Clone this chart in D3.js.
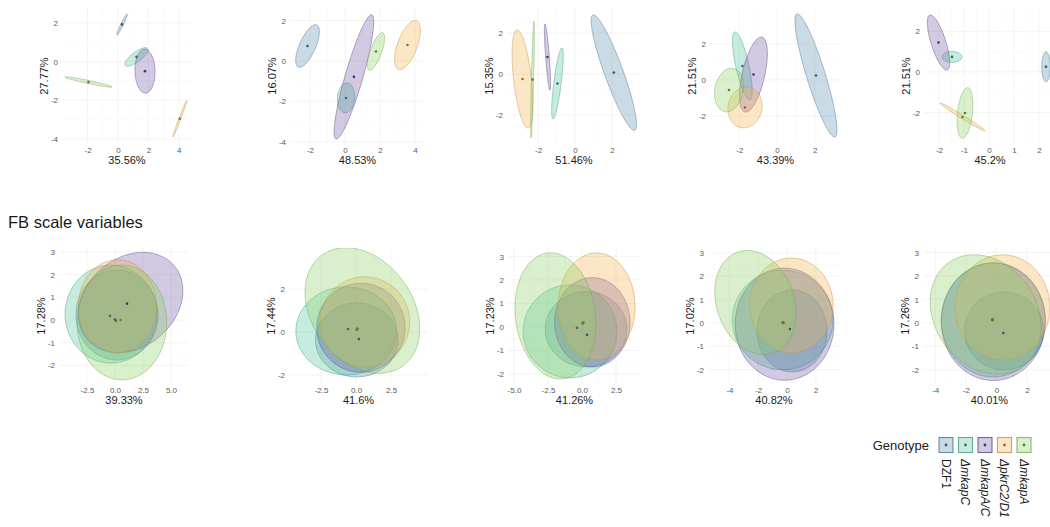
<!DOCTYPE html>
<html>
<head>
<meta charset="utf-8">
<script src="https://cdn.jsdelivr.net/npm/d3@7"></script>
<style>
  body { margin: 0; background: #fff; }
  text { font-family: "Liberation Sans", Arial, Helvetica, sans-serif; }
</style>
</head>
<body>
<svg id="chart" width="1050" height="527"></svg>
<script>
// Genotype groups, in drawing order
const genotypes = ["DZF1", "ΔmkapC", "ΔmkapA/C", "ΔpkrC2/D1", "ΔmkapA"];
const genotypeColors = ["#5b8fb0", "#4fc39b", "#7457a6", "#f2b24e", "#8ccf63"];

// Axis titles (percent of variance on each PC)
const topXTitles = ["35.56%", "48.53%", "51.46%", "43.39%", "45.2%"];
const topYTitles = ["27.77%", "16.07%", "15.35%", "21.51%", "21.51%"];
const bottomXTitles = ["39.33%", "41.6%", "41.26%", "40.82%", "40.01%"];
const bottomYTitles = ["17.28%", "17.44%", "17.23%", "17.02%", "17.26%"];

// Axis domains
const topXDomains = [[-3.68, 4.87], [-3.14, 4.57], [-3.68, 3.57], [-3.56, 3.40], [-2.6, 2.68]];
const topYDomains = [[-4.27, 2.77], [-4.11, 2.62], [-3.41, 3.22], [-3.52, 3.96], [-3.55, 3.15]];
const bottomXDomains = [[-5.0, 6.61], [-4.79, 5.14], [-5.44, 4.34], [-5.49, 3.68], [-4.8, 3.9]];
const bottomYDomains = [[-2.82, 3.17], [-2.42, 3.91], [-2.43, 3.36], [-2.61, 3.21], [-2.6, 3.19]];

// Tick values
const topXTicks = [[-2, 0, 2, 4], [-2, 0, 2, 4], [-2, 0, 2], [-2, 0, 2], [-2, -1, 0, 1, 2]];
const topYTicks = [[-4, -2, 0, 2], [-4, -2, 0, 2], [-2, 0, 2], [-2, 0, 2], [-2, 0, 2]];
const bottomXTicks = [[-2.5, 0, 2.5, 5], [-2.5, 0, 2.5], [-5, -2.5, 0, 2.5], [-4, -2, 0, 2], [-4, -2, 0, 2]];
const bottomYTicks = [[-2, -1, 0, 1, 2, 3], [-2, 0, 2], [-2, -1, 0, 1, 2, 3], [-2, -1, 0, 1, 2, 3], [-2, -1, 0, 1, 2, 3]];
const bottomXDecimals = [1, 1, 1, 0, 0];

// Group ellipses per panel: [centreX, centreY, semiMajor, semiMinor, angleDeg], genotype order
const topEllipses = [
  [[0.27, 1.92, 0.64, 0.08, 58], [1.22, 0.24, 0.86, 0.27, 29], [1.78, -0.5, 1.14, 0.66, 92], [4.07, -2.96, 1.06, 0.06, 64], [-1.94, -1.06, 1.57, 0.08, -9.5]],
  [[-2.14, 0.74, 1.17, 0.45, 62], [0.06, -1.83, 0.74, 0.49, 85], [0.51, -0.79, 3.24, 0.5, 71.5], [3.57, 0.79, 1.31, 0.55, 65.6], [1.77, 0.47, 1.0, 0.32, 66.5]],
  [[2.1, 0.07, 3.03, 0.5, -68], [-0.95, -0.46, 1.75, 0.2, 82], [-1.49, 0.83, 1.62, 0.1, -85.2], [-2.84, -0.24, 2.41, 0.48, -82.8], [-2.3, -0.27, 2.85, 0.06, 88.4]],
  [[2.07, 0.25, 3.53, 0.5, -73.4], [-1.84, 0.77, 1.91, 0.35, -78], [-1.25, 0.3, 2.11, 0.6, 77.7], [-1.7, -1.51, 1.13, 0.9, 80], [-2.55, -0.55, 1.21, 0.75, 80]],
  [[2.28, 0.25, 0.74, 0.17, 90], [-1.48, 0.74, 0.4, 0.27, 0], [-2.02, 1.45, 1.4, 0.3, -75.9], [-1.06, -2.22, 1.13, 0.08, -37.3], [-0.96, -2.02, 1.25, 0.3, 85]]
];
const bottomEllipses = [
  [[0.18, 0.22, 3.66, 1.98, 0], [-0.36, 0.26, 4.1, 2.16, 0], [1.4, 0.77, 4.7, 2.13, 8], [0.22, 0.6, 3.5, 2.05, 0], [0.62, -0.11, 4.0, 2.53, 0]],
  [[0.05, -0.37, 2.95, 1.72, 0], [-0.7, 0.05, 3.6, 2.05, 0], [0.35, 0.2, 3.15, 2.07, 0], [0.63, 0.47, 3.2, 2.1, 0], [0.45, 1.0, 4.25, 2.7, -20]],
  [[0.3, -0.1, 3.0, 1.6, 0], [-0.88, -0.19, 3.45, 1.98, 0], [0.76, 0.2, 2.77, 1.9, 0], [1.07, 0.87, 2.83, 2.28, 0], [-1.95, 0.47, 3.05, 2.6, -25]],
  [[0.35, -0.34, 2.43, 1.75, 0], [-0.3, 0.13, 3.5, 2.13, 0], [-0.17, -0.05, 3.43, 2.4, 0], [0.3, 0.75, 2.9, 2.03, 0], [-2.2, 0.88, 2.9, 2.12, -20]],
  [[0.5, -0.34, 2.58, 1.66, 0], [-0.2, 0.13, 3.4, 2.43, 0], [-0.2, 0.05, 3.4, 2.5, 0], [0.4, 0.66, 3.1, 2.24, 0], [-0.7, 0.36, 3.7, 2.44, -15]]
];
// Group means for the lower row: [x, y], genotype order
const bottomMeans = [
  [[0.0, 0.02], [-0.45, 0.18], [1.07, 0.72], [0.5, 0.0], [0.1, -0.05]],
  [[0.2, -0.33], [-0.57, 0.14], [0.07, 0.14], [0.1, 0.15], [0.05, 0.1]],
  [[0.37, -0.34], [-0.37, -0.04], [0.07, 0.17], [0.1, 0.2], [0.05, 0.15]],
  [[0.2, -0.26], [-0.28, 0.0], [-0.28, 0.02], [-0.25, 0.0], [-0.3, 0.02]],
  [[0.45, -0.43], [-0.26, 0.13], [-0.26, 0.15], [-0.25, 0.12], [-0.27, 0.14]]
];

const sectionTitle = "FB scale variables";
const legendTitle = "Genotype";

// ---- layout ----
const svg = d3.select("#chart");
const topRow = { top: 8, bottom: 144, lefts: [62, 290, 507, 710, 924], rights: [192, 425, 641, 841, 1056] };
const bottomRow = { top: 248, bottom: 384, lefts: [59, 289, 508, 708, 923], rights: [189, 428, 641, 840, 1056] };
const fillOpacity = 0.32;
const strokeColor = c => d3.color(c).darker(0.6);

const defs = svg.append("defs");
let clipId = 0;

function ellipsePoints(e, x, y) {
  const [cx, cy, a, b, ang] = e;
  const th = ang * Math.PI / 180;
  return d3.range(0, 121).map(i => {
    const t = i / 120 * 2 * Math.PI;
    const ux = a * Math.cos(t), vy = b * Math.sin(t);
    return [x(cx + ux * Math.cos(th) - vy * Math.sin(th)), y(cy + ux * Math.sin(th) + vy * Math.cos(th))];
  });
}

function drawPanel(box, xDom, yDom, xTicks, yTicks, xFmt, ellipses, means, xTitle, yTitle) {
  const x = d3.scaleLinear().domain(xDom).range([box.left, box.right]);
  const y = d3.scaleLinear().domain(yDom).range([box.bottom, box.top]);
  const g = svg.append("g");

  // faint grid
  const grid = g.append("g");
  const xMinor = xTicks.slice(1).map((v, i) => (v + xTicks[i]) / 2);
  const yMinor = yTicks.slice(1).map((v, i) => (v + yTicks[i]) / 2);
  grid.selectAll(".xmin").data(xMinor).join("line")
    .attr("x1", d => x(d)).attr("x2", d => x(d)).attr("y1", box.top).attr("y2", box.bottom)
    .attr("stroke", "#f7f7f7").attr("stroke-width", 0.5);
  grid.selectAll(".ymin").data(yMinor).join("line")
    .attr("y1", d => y(d)).attr("y2", d => y(d)).attr("x1", box.left).attr("x2", box.right)
    .attr("stroke", "#f7f7f7").attr("stroke-width", 0.5);
  grid.selectAll(".xmaj").data(xTicks).join("line")
    .attr("x1", d => x(d)).attr("x2", d => x(d)).attr("y1", box.top).attr("y2", box.bottom)
    .attr("stroke", "#efefef").attr("stroke-width", 0.7);
  grid.selectAll(".ymaj").data(yTicks).join("line")
    .attr("y1", d => y(d)).attr("y2", d => y(d)).attr("x1", box.left).attr("x2", box.right)
    .attr("stroke", "#efefef").attr("stroke-width", 0.7);

  // ellipses, clipped to the panel
  const id = "clip" + (clipId++);
  defs.append("clipPath").attr("id", id).append("rect")
    .attr("x", box.left).attr("y", box.top)
    .attr("width", box.right - box.left).attr("height", box.bottom - box.top);
  const plot = g.append("g").attr("clip-path", `url(#${id})`);
  const line = d3.line().curve(d3.curveLinearClosed);
  plot.selectAll("path.ell").data(ellipses).join("path")
    .attr("class", "ell")
    .attr("d", e => line(ellipsePoints(e, x, y)))
    .attr("fill", (e, i) => genotypeColors[i]).attr("fill-opacity", fillOpacity)
    .attr("stroke", (e, i) => strokeColor(genotypeColors[i])).attr("stroke-opacity", 0.55)
    .attr("stroke-width", 0.8);
  plot.selectAll("circle.mean").data(means).join("circle")
    .attr("class", "mean")
    .attr("cx", d => x(d[0])).attr("cy", d => y(d[1])).attr("r", 1.3)
    .attr("fill", (d, i) => d3.color(genotypeColors[i]).darker(1.4));

  // axes (labels only)
  const ax = g.append("g").attr("transform", `translate(0,${box.bottom})`)
    .call(d3.axisBottom(x).tickValues(xTicks).tickSize(0).tickPadding(3).tickFormat(xFmt));
  const ay = g.append("g").attr("transform", `translate(${box.left},0)`)
    .call(d3.axisLeft(y).tickValues(yTicks).tickSize(0).tickPadding(4).tickFormat(d => String(d)));
  [ax, ay].forEach(a => {
    a.select(".domain").remove();
    a.selectAll("text").attr("font-size", 8).attr("fill", "#5a5a5a")
      .attr("font-family", "'Liberation Sans', Arial, sans-serif");
  });

  // axis titles
  g.append("text")
    .attr("x", (box.left + box.right) / 2).attr("y", box.bottom + 16).attr("dy", "0.35em")
    .attr("text-anchor", "middle").attr("font-size", 11).attr("fill", "#1a1a1a")
    .text(xTitle);
  g.append("text")
    .attr("transform", `translate(${box.left - 18},${(box.top + box.bottom) / 2}) rotate(-90)`)
    .attr("dy", "0.35em").attr("text-anchor", "middle").attr("font-size", 11).attr("fill", "#1a1a1a")
    .text(yTitle);
}

// upper row
for (let p = 0; p < 5; p++) {
  drawPanel({ left: topRow.lefts[p], right: topRow.rights[p], top: topRow.top, bottom: topRow.bottom },
    topXDomains[p], topYDomains[p], topXTicks[p], topYTicks[p], d => String(d),
    topEllipses[p], topEllipses[p].map(e => [e[0], e[1]]), topXTitles[p], topYTitles[p]);
}

// section title
svg.append("text").attr("x", 8).attr("y", 228)
  .attr("font-size", 16.5).attr("fill", "#1a1a1a").text(sectionTitle);

// lower row
for (let p = 0; p < 5; p++) {
  const dec = bottomXDecimals[p];
  drawPanel({ left: bottomRow.lefts[p], right: bottomRow.rights[p], top: bottomRow.top, bottom: bottomRow.bottom },
    bottomXDomains[p], bottomYDomains[p], bottomXTicks[p], bottomYTicks[p], d => d.toFixed(dec),
    bottomEllipses[p], bottomMeans[p], bottomXTitles[p], bottomYTitles[p]);
}

// legend
const legend = svg.append("g");
legend.append("text").attr("x", 929).attr("y", 445).attr("dy", "0.35em")
  .attr("text-anchor", "end").attr("font-size", 13).attr("fill", "#1a1a1a").text(legendTitle);
const keyX = i => 946 + i * 19.5;
const keys = legend.selectAll("g.key").data(genotypes).join("g").attr("class", "key")
  .attr("transform", (d, i) => `translate(${keyX(i)},445)`);
keys.append("rect").attr("x", -7).attr("y", -7.5).attr("width", 14).attr("height", 15)
  .attr("fill", (d, i) => genotypeColors[i]).attr("fill-opacity", fillOpacity)
  .attr("stroke", (d, i) => strokeColor(genotypeColors[i])).attr("stroke-opacity", 0.8).attr("stroke-width", 1.1);
keys.append("circle").attr("r", 1.4)
  .attr("fill", (d, i) => d3.color(genotypeColors[i]).darker(1.4));
keys.append("text")
  .attr("transform", "translate(0,14) rotate(90)")
  .attr("dy", "0.35em").attr("font-size", 12).attr("fill", "#1a1a1a")
  .attr("font-style", d => d.startsWith("Δ") ? "italic" : "normal")
  .text(d => d);
</script>
</body>
</html>
